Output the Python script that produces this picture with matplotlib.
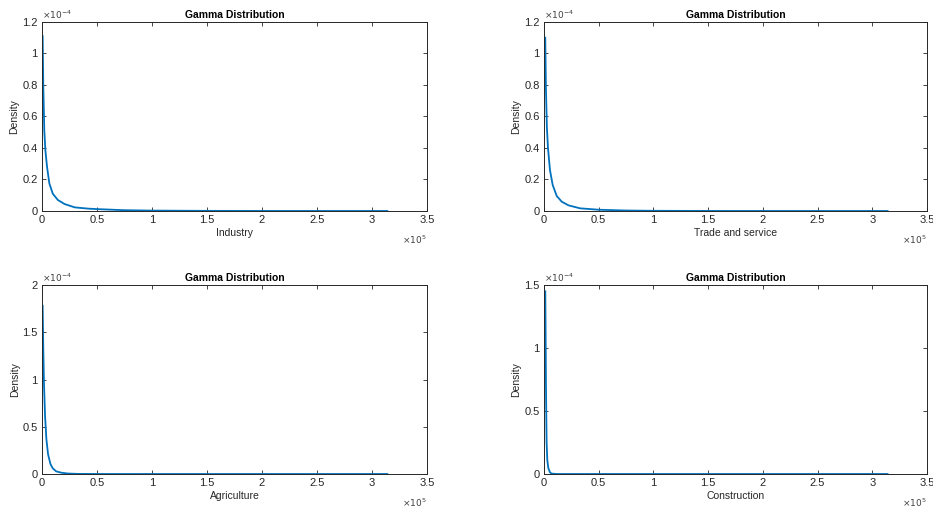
import numpy as np
import matplotlib
matplotlib.use("Agg")
import matplotlib.pyplot as plt
from matplotlib.ticker import FuncFormatter

plt.rcParams['font.family'] = ['Liberation Sans', 'DejaVu Sans']

# values (x in raw units, density in raw units)
industry_x = [600, 1200, 2100, 3100, 4600, 6700, 9800, 14400, 20600, 29800, 42000, 50000,
              75000, 100000, 150000, 200000, 250000, 314000]
industry_y = [1.11e-4, 0.785e-4, 0.51e-4, 0.385e-4, 0.28e-4, 0.175e-4, 0.11e-4, 0.07e-4, 0.044e-4,
              0.023e-4, 0.015e-4, 0.012e-4, 0.005e-4, 0.0025e-4, 0.0008e-4, 0.0003e-4, 0.0001e-4, 0.00005e-4]

trade_x = [1200, 1800, 2700, 3700, 5500, 8000, 11700, 16300, 22400, 33000, 50000,
           75000, 100000, 150000, 200000, 250000, 314000]
trade_y = [1.10e-4, 0.785e-4, 0.53e-4, 0.40e-4, 0.26e-4, 0.165e-4, 0.095e-4, 0.059e-4, 0.036e-4,
           0.017e-4, 0.008e-4, 0.003e-4, 0.0012e-4, 0.0003e-4, 0.0001e-4, 0.00003e-4, 0.00001e-4]

agri_x = [600, 1200, 1800, 2800, 4000, 5500, 7700, 9800, 12900, 17500, 23600, 33000,
          50000, 100000, 200000, 314000]
agri_y = [1.78e-4, 1.31e-4, 0.96e-4, 0.61e-4, 0.37e-4, 0.21e-4, 0.105e-4, 0.06e-4, 0.028e-4,
          0.014e-4, 0.005e-4, 0.001e-4, 0.0002e-4, 0.0, 0.0, 0.0]

constr_x = [1230, 1530, 1840, 2150, 2450, 3070, 4000, 5500, 7000, 11700, 50000, 314000]
constr_y = [1.45e-4, 1.12e-4, 0.72e-4, 0.46e-4, 0.25e-4, 0.11e-4, 0.048e-4, 0.013e-4, 0.003e-4,
            0.0, 0.0, 0.0]

panels = [
    (industry_x, industry_y, "Industry", 1.2e-4, [0, 0.2e-4, 0.4e-4, 0.6e-4, 0.8e-4, 1e-4, 1.2e-4]),
    (trade_x, trade_y, "Trade and service", 1.2e-4, [0, 0.2e-4, 0.4e-4, 0.6e-4, 0.8e-4, 1e-4, 1.2e-4]),
    (agri_x, agri_y, "Agriculture", 2e-4, [0, 0.5e-4, 1e-4, 1.5e-4, 2e-4]),
    (constr_x, constr_y, "Construction", 1.5e-4, [0, 0.5e-4, 1e-4, 1.5e-4]),
]

positions = [
    [0.045, 0.5903, 0.4126, 0.367],
    [0.583, 0.5903, 0.4105, 0.367],
    [0.045, 0.0796, 0.4126, 0.367],
    [0.583, 0.0796, 0.4105, 0.367],
]

fig = plt.figure(figsize=(9.33, 5.15), dpi=100)

for (xs, ys, label, ymax, yticks), pos in zip(panels, positions):
    ax = fig.add_axes(pos)
    ax.plot(xs, ys, color='#0072BD', lw=1.3)
    ax.set_xlim(0, 3.5e5)
    ax.set_ylim(0, ymax)
    ax.set_xticks(np.arange(0, 3.51e5, 0.5e5))
    ax.set_yticks(yticks)
    ax.xaxis.set_major_formatter(FuncFormatter(lambda v, p: '%g' % round(v / 1e5, 2)))
    ax.yaxis.set_major_formatter(FuncFormatter(lambda v, p: '%g' % round(v / 1e-4, 2)))
    ax.tick_params(direction='in', length=3, width=0.6, labelsize=8, colors='#262626',
                   top=True, right=True, pad=3)
    for s in ax.spines.values():
        s.set_color('#262626')
        s.set_linewidth(0.7)
    ax.set_title('Gamma Distribution', fontsize=7.5, fontweight='bold', pad=3)
    ax.set_xlabel(label, fontsize=7.5, color='#262626', labelpad=2)
    ax.set_ylabel('Density', fontsize=7.5, color='#262626', labelpad=2)
    ax.text(0.0, 1.005, r'$\times10^{-4}$', transform=ax.transAxes, fontsize=6.5,
            color='#404040', ha='left', va='bottom')
    ax.text(1.0, -0.12, r'$\times10^{5}$', transform=ax.transAxes, fontsize=6.5,
            color='#404040', ha='right', va='top')

fig.savefig('out.png', dpi=100)
